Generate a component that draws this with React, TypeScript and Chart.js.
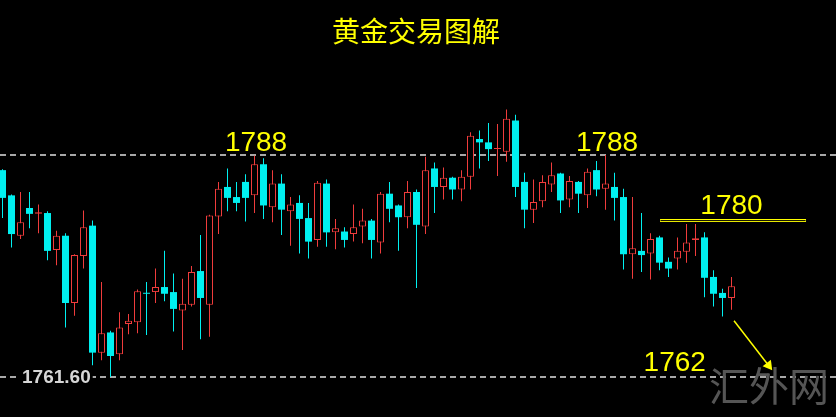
import React, { useEffect, useRef } from "react";
import { Chart, registerables } from "chart.js";

Chart.register(...registerables);

// Candle prices, one entry per candle, left to right
const opens = [
  1786.2, 1783.2, 1778.4, 1781.7, 1781.0, 1781.1, 1776.7, 1778.4, 1770.4, 1776.0,
  1779.6, 1764.5, 1766.9, 1764.3, 1767.9, 1768.1, 1771.6, 1771.7, 1772.3, 1771.7,
  1769.5, 1770.2, 1774.2, 1770.2, 1780.7, 1784.2, 1783.0, 1784.8, 1783.2, 1786.9,
  1781.8, 1784.6, 1781.3, 1782.3, 1780.5, 1777.9, 1784.6, 1778.8, 1778.9, 1778.6,
  1779.5, 1780.2, 1777.6, 1783.4, 1782.0, 1780.6, 1783.6, 1779.5, 1786.4, 1784.2,
  1785.3, 1783.9, 1785.4, 1789.9, 1789.5, 1788.7, 1788.4, 1792.1, 1784.8, 1781.5,
  1782.5, 1784.5, 1785.8, 1782.7, 1784.8, 1783.2, 1786.2, 1784.0, 1784.2, 1783.0,
  1776.2, 1776.6, 1776.3, 1778.2, 1775.3, 1775.7, 1776.5, 1777.9, 1778.2, 1773.5,
  1771.6, 1771.0,
];
const highs = [
  1786.3, 1783.3, 1783.6, 1783.6, 1782.1, 1781.3, 1779.0, 1778.7, 1776.2, 1781.4,
  1780.2, 1772.9, 1767.1, 1769.3, 1769.1, 1772.0, 1772.9, 1774.5, 1776.6, 1773.9,
  1773.3, 1774.8, 1778.5, 1780.9, 1784.8, 1786.4, 1784.8, 1785.7, 1787.9, 1787.6,
  1786.2, 1785.7, 1783.0, 1783.2, 1782.3, 1784.9, 1785.1, 1780.4, 1779.4, 1782.1,
  1781.6, 1780.4, 1783.6, 1784.8, 1782.1, 1784.9, 1783.9, 1787.8, 1787.1, 1786.5,
  1785.4, 1786.2, 1790.7, 1790.9, 1791.8, 1791.7, 1793.4, 1792.8, 1785.9, 1785.1,
  1785.6, 1787.1, 1785.9, 1785.5, 1784.9, 1786.4, 1787.3, 1788.0, 1785.9, 1784.0,
  1783.0, 1781.1, 1778.7, 1778.4, 1775.8, 1778.2, 1779.8, 1779.8, 1778.8, 1774.3,
  1772.1, 1773.5,
];
const lows = [
  1780.5, 1777.0, 1778.0, 1779.3, 1778.7, 1775.5, 1774.9, 1767.5, 1768.9, 1774.5,
  1763.0, 1763.6, 1761.6, 1763.6, 1766.7, 1766.8, 1766.6, 1770.4, 1770.6, 1767.0,
  1764.8, 1770.0, 1766.1, 1766.4, 1778.6, 1781.3, 1781.3, 1780.1, 1781.1, 1780.4,
  1780.0, 1778.5, 1777.2, 1776.3, 1775.7, 1777.1, 1777.1, 1776.8, 1777.0, 1777.7,
  1777.5, 1775.7, 1776.3, 1780.0, 1776.6, 1779.3, 1772.2, 1778.6, 1781.1, 1782.7,
  1782.7, 1782.5, 1783.9, 1786.4, 1787.3, 1785.5, 1787.2, 1783.0, 1779.3, 1779.9,
  1781.8, 1783.6, 1781.1, 1781.8, 1781.1, 1781.7, 1783.1, 1781.5, 1780.2, 1774.4,
  1773.3, 1774.1, 1773.2, 1774.3, 1773.5, 1774.4, 1775.2, 1776.0, 1771.1, 1770.0,
  1768.8, 1769.6,
];
const closes = [
  1782.9, 1778.6, 1780.0, 1781.0, 1781.2, 1776.6, 1778.4, 1770.4, 1776.1, 1779.4,
  1764.5, 1766.8, 1764.1, 1767.5, 1768.3, 1771.8, 1771.5, 1772.3, 1771.5, 1769.7,
  1770.3, 1774.1, 1771.0, 1780.8, 1784.0, 1782.9, 1782.3, 1782.9, 1786.9, 1782.0,
  1784.6, 1781.5, 1782.1, 1780.4, 1777.7, 1784.7, 1778.8, 1779.3, 1777.9, 1779.4,
  1780.2, 1777.9, 1783.4, 1781.6, 1780.6, 1783.6, 1779.7, 1786.2, 1784.2, 1785.3,
  1783.9, 1785.4, 1790.3, 1789.5, 1788.7, 1788.8, 1792.3, 1784.2, 1781.5, 1782.4,
  1784.8, 1785.6, 1782.6, 1784.9, 1783.4, 1786.0, 1783.9, 1784.6, 1782.9, 1776.2,
  1776.9, 1776.1, 1778.0, 1775.2, 1774.5, 1776.6, 1777.6, 1778.1, 1773.4, 1771.5,
  1771.0, 1772.4,
];

// Horizontal reference levels
const dashedLevels = [1788, 1761.6];
const resistanceLevel = 1780.2;
const resistanceSpan = [73.06, 89.28]; // candle-index range of the 1780 line

// Arrow (candle index, price)
const arrowFrom = [81.28, 1768.3];
const arrowTo = [85.12, 1762.98];

// Yellow price annotations: text and anchor (candle index, price of baseline)
const noteTexts = ["1788", "1788", "1780", "1762"];
const noteIndex = [28.17, 67.17, 81.0, 74.69];
const notePrice = [1788.51, 1788.51, 1780.95, 1762.35];

const lowLabel = "1761.60";
const lowLabelAt = [2.17, 1761.6];
const titleText = "黄金交易图解";
const watermarkText = "汇外网";

const X_MIN = -0.27778;
const X_MAX = 92.6111;
const Y_MIN = 1756.847;
const Y_MAX = 1806.43;

const UP = "#f03c3c";
const DOWN = "#00f0f0";
const YELLOW = "#ffff00";

export default function App() {
  const ref = useRef<HTMLCanvasElement>(null);

  useEffect(() => {
    const canvas = ref.current;
    if (!canvas) return;
    const idx = opens.map((_, i) => i);
    const isUp = idx.map((i) => closes[i] >= opens[i]);
    const bodies = idx.map((i) => ({ x: i, y: [opens[i], closes[i]] }));
    const wicks = idx.map((i) => ({ x: i, y: [lows[i], highs[i]] }));

    const textPlugin = {
      id: "texts",
      afterDatasetsDraw(chart: any) {
        const { ctx } = chart;
        const xs = chart.scales.x;
        const ys = chart.scales.y;
        ctx.save();
        // price notes
        ctx.fillStyle = YELLOW;
        ctx.font = '28px "Liberation Sans", Arial, sans-serif';
        ctx.textAlign = "center";
        ctx.textBaseline = "alphabetic";
        noteTexts.forEach((t, k) => {
          ctx.fillText(t, xs.getPixelForValue(noteIndex[k]), ys.getPixelForValue(notePrice[k]));
        });
        // low label
        ctx.font = 'bold 19px "Liberation Sans", Arial, sans-serif';
        ctx.textAlign = "left";
        ctx.textBaseline = "middle";
        const lx = xs.getPixelForValue(lowLabelAt[0]);
        const ly = ys.getPixelForValue(lowLabelAt[1]);
        const w = ctx.measureText(lowLabel).width;
        ctx.fillStyle = "#000";
        ctx.fillRect(lx - 3, ly - 8, w + 5, 16);
        ctx.fillStyle = "#d6d6d6";
        ctx.fillText(lowLabel, lx, ly + 1);
        // title
        ctx.fillStyle = YELLOW;
        ctx.font = '28px "Noto Sans CJK SC", sans-serif';
        ctx.textAlign = "center";
        ctx.fillText(titleText, 416, 31);
        // watermark
        ctx.fillStyle = "#555555";
        ctx.font = '40px "Noto Sans CJK SC", sans-serif';
        ctx.textAlign = "right";
        ctx.fillText(watermarkText, 829, 386);
        ctx.restore();
      },
    };

    const pt = (x: number, y: number) => ({ x, y });

    const chart = new Chart(canvas, {
      type: "bar",
      data: {
        datasets: [
          {
            type: "bar",
            label: "body",
            data: bodies as any,
            backgroundColor: isUp.map((u) => (u ? "#000000" : DOWN)),
            borderColor: isUp.map((u) => (u ? UP : DOWN)),
            borderWidth: isUp.map((u) => (u ? 1 : 0)),
            borderSkipped: false,
            grouped: false,
            maxBarThickness: 7,
            categoryPercentage: 1,
            barPercentage: 1,
            minBarLength: 1,
            inflateAmount: 0,
            order: 1,
          } as any,
          {
            type: "bar",
            label: "wick",
            data: wicks as any,
            backgroundColor: isUp.map((u) => (u ? UP : DOWN)),
            borderWidth: 0,
            grouped: false,
            maxBarThickness: 1,
            categoryPercentage: 1,
            barPercentage: 1,
            inflateAmount: 0,
            order: 2,
          } as any,
          ...dashedLevels.map(
            (v) =>
              ({
                type: "line",
                label: "level " + v,
                data: [pt(X_MIN, v), pt(X_MAX, v)],
                borderColor: "#a8a8a8",
                borderWidth: 2,
                borderDash: [6, 4],
                pointRadius: 0,
                order: 3,
              } as any)
          ),
          {
            type: "line",
            label: "resistance",
            data: [pt(resistanceSpan[0], resistanceLevel), pt(resistanceSpan[1], resistanceLevel)],
            borderColor: YELLOW,
            borderWidth: 3,
            pointRadius: 0,
            order: 0,
          } as any,
          {
            type: "line",
            label: "resistance inner",
            data: [pt(resistanceSpan[0] + 0.05, resistanceLevel), pt(resistanceSpan[1] - 0.05, resistanceLevel)],
            borderColor: "#000000",
            borderWidth: 1,
            pointRadius: 0,
            order: -1,
          } as any,
          {
            type: "line",
            label: "arrow",
            data: [pt(arrowFrom[0], arrowFrom[1]), pt(arrowTo[0], arrowTo[1])],
            borderColor: YELLOW,
            borderWidth: 1.5,
            pointRadius: [0, 6],
            pointStyle: "triangle",
            pointRotation: [0, 142.4],
            pointBackgroundColor: YELLOW,
            pointBorderWidth: 0,
            order: -2,
          } as any,
        ],
      },
      options: {
        animation: false,
        responsive: false,
        devicePixelRatio: 1,
        events: [],
        layout: { padding: 0, autoPadding: false },
        plugins: {
          legend: { display: false },
          tooltip: { enabled: false },
          title: { display: false },
        },
        scales: {
          x: {
            type: "linear",
            min: X_MIN,
            max: X_MAX,
            offset: false,
            bounds: "data",
            display: false,
            afterBuildTicks: (axis: any) => {
              axis.ticks = [];
            },
          },
          y: {
            type: "linear",
            min: Y_MIN,
            max: Y_MAX,
            bounds: "data",
            beginAtZero: false,
            display: false,
          },
        },
      } as any,
      plugins: [textPlugin],
    });

    return () => chart.destroy();
  }, []);

  return (
    <div
      style={{
        position: "fixed",
        left: 0,
        top: 0,
        width: 836,
        height: 417,
        background: "#000",
      }}
    >
      <canvas ref={ref} width={836} height={417} style={{ display: "block" }} />
    </div>
  );
}
